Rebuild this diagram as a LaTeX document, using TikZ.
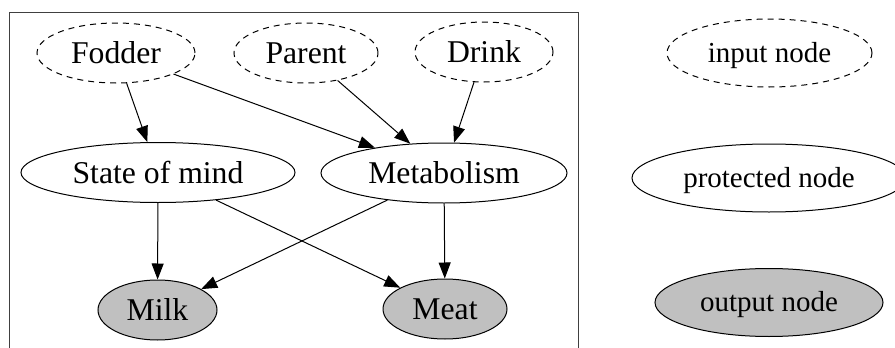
\documentclass[tikz,border=0pt]{standalone}
\usepackage{fontspec}
\setmainfont{Liberation Serif}
\usetikzlibrary{shapes.geometric,arrows.meta}

\definecolor{outgray}{RGB}{192,192,192}
\tikzset{
  gnode/.style={ellipse, draw, line width=1pt, inner sep=0pt,
    minimum height=60pt, font=\fontsize{31.7}{36}\selectfont,
    text height=21.6pt, text depth=0pt},
  inputnode/.style={gnode, dash pattern=on 6pt off 5pt},
  protnode/.style={gnode},
  outnode/.style={gnode, fill=outgray},
  keynode/.style={font=\fontsize{29}{34}\selectfont, text height=18pt,
    minimum height=68pt},
  edge/.style={line width=1pt, -{Triangle[length=16pt, width=12pt]}},
  framed/.style={line width=1pt, draw=black!75},
}

\begin{document}
\begin{tikzpicture}[x=1pt, y=-1pt]
  \useasboundingbox (0,0) rectangle (895,348);
  \clip (0,0) rectangle (895,348);
  \fill[white] (0,0) rectangle (895,348);

  % frame round the model
  \draw[framed] (9,360) -- (9,12) -- (578,12) -- (578,360);

  % inputs
  \node[inputnode, minimum width=158pt] (fodder) at (116,53) {Fodder};
  \node[inputnode, minimum width=144pt] (parent) at (306,53) {Parent};
  \node[inputnode, minimum width=138pt] (drink)  at (484,52) {Drink};

  % protected nodes
  \node[protnode, minimum width=274pt] (mind)  at (158,172.5) {State of mind};
  \node[protnode, minimum width=246pt] (metab) at (444,173) {Metabolism};

  % outputs
  \node[outnode, minimum width=119pt] (milk) at (157.5,310) {Milk};
  \node[outnode, minimum width=124pt] (meat) at (445,309) {Meat};

  % edges
  \draw[edge] (fodder) -- (mind);
  \draw[edge] (fodder) -- (metab);
  \draw[edge] (parent) -- (metab);
  \draw[edge] (drink)  -- (metab);
  \draw[edge] (mind)   -- (milk);
  \draw[edge] (mind)   -- (meat);
  \draw[edge] (metab)  -- (milk);
  \draw[edge] (metab)  -- (meat);

  % key
  \node[inputnode, keynode, minimum width=205pt] (kin)   at (769.5,53) {input node};
  \node[protnode,  keynode, minimum width=274pt] (kprot) at (769,178) {protected node};
  \node[outnode,   keynode, minimum width=228pt] (kout)  at (769,302.5) {output node};
\end{tikzpicture}
\end{document}
